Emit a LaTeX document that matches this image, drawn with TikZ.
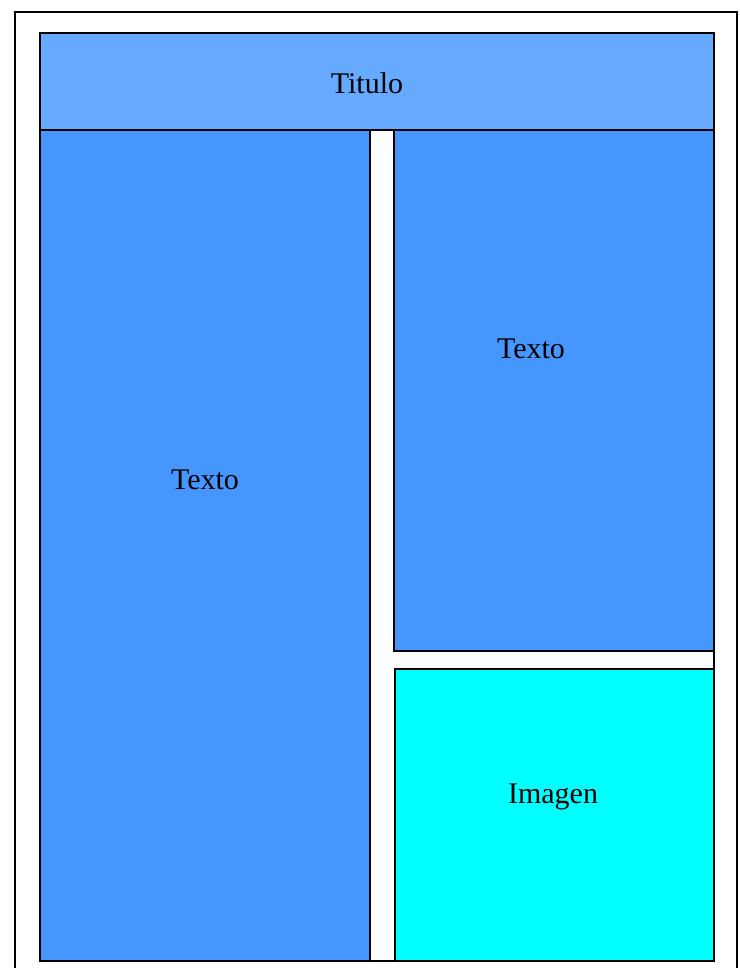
\documentclass[tikz,border=0pt]{standalone}
\usepackage{fontspec}
\setmainfont{Liberation Serif}
\definecolor{titlecol}{RGB}{102,170,255}
\definecolor{textcol}{RGB}{70,150,255}
\definecolor{imgcol}{RGB}{0,255,255}
\begin{document}
\begin{tikzpicture}[x=1pt,y=-1pt,
  frame/.style={draw=black,line width=2.2pt},
  boxst/.style={draw=black,line width=2.2pt},
  lab/.style={font=\fontsize{30}{32}\selectfont,inner sep=0pt}]
\useasboundingbox (0,0) rectangle (739,968);
\draw[frame] (15,12) rectangle (737,985);
\draw[frame,fill=white] (40,33) rectangle (714,961);
\draw[boxst,fill=titlecol] (40,33) rectangle (714,130);
\draw[boxst,fill=textcol] (40,130) rectangle (370,961);
\draw[boxst,fill=textcol] (394,130) rectangle (714,651);
\draw[boxst,fill=imgcol] (395,669) rectangle (714,961);
\draw[line width=2.2pt] (40,961) -- (714,961);
\node[lab] (titulo) at (367,83) {Titulo};
\node[lab] (texto1) at (205,480) {Texto};
\node[lab] (texto2) at (531,349) {Texto};
\node[lab] (imagen) at (553,797) {Imagen};
\end{tikzpicture}
\end{document}
